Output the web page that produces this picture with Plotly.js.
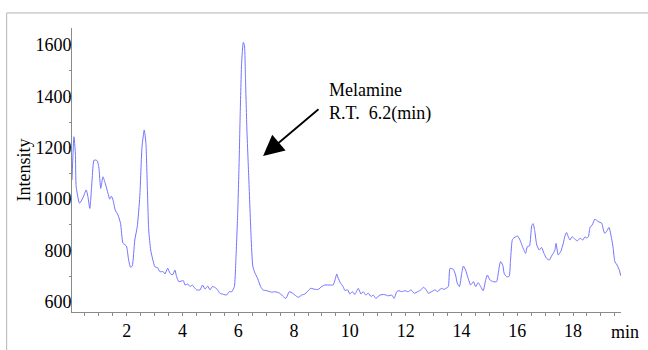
<!DOCTYPE html>
<html>
<head>
<meta charset="utf-8">
<script src="https://cdn.plot.ly/plotly-3.0.1.min.js"></script>
<style>html,body{margin:0;padding:0;background:#fff;}#chart{width:648px;height:350px;}</style>
</head>
<body>
<div id="chart"></div>
<script>
// Retention time (min)
const time = [0.04,0.11,0.16,0.19,0.31,0.43,0.55,0.61,0.68,0.76,0.83,0.94,1.00,1.07,1.15,1.23,1.33,1.39,1.45,1.51,1.59,1.69,1.78,1.87,1.99,2.07,2.14,2.20,2.29,2.38,2.47,2.55,2.63,2.69,2.74,2.79,2.86,2.94,3.01,3.11,3.19,3.31,3.37,3.47,3.55,3.64,3.73,3.79,3.87,4.03,4.09,4.19,4.27,4.35,4.42,4.51,4.63,4.72,4.81,4.90,4.99,5.07,5.16,5.26,5.34,5.46,5.58,5.67,5.77,5.86,5.91,5.98,6.03,6.07,6.12,6.18,6.22,6.26,6.31,6.38,6.46,6.52,6.60,6.70,6.80,6.88,7.02,7.20,7.32,7.49,7.61,7.71,7.83,7.95,8.03,8.15,8.27,8.39,8.47,8.60,8.75,8.87,8.99,9.11,9.29,9.40,9.47,9.53,9.58,9.67,9.76,9.82,9.92,10.00,10.09,10.18,10.30,10.40,10.48,10.57,10.66,10.76,10.84,10.93,11.08,11.23,11.38,11.50,11.59,11.68,11.76,11.86,11.97,12.09,12.19,12.31,12.43,12.55,12.63,12.73,12.81,12.93,13.05,13.15,13.27,13.38,13.44,13.53,13.59,13.71,13.79,13.85,13.93,14.01,14.07,14.15,14.24,14.33,14.43,14.51,14.60,14.69,14.78,14.87,14.93,15.02,15.14,15.26,15.32,15.40,15.48,15.53,15.62,15.71,15.76,15.83,15.92,16.01,16.10,16.19,16.30,16.36,16.44,16.52,16.57,16.63,16.70,16.79,16.87,16.96,17.05,17.15,17.23,17.29,17.35,17.39,17.47,17.56,17.65,17.71,17.77,17.83,17.89,17.97,18.07,18.16,18.25,18.35,18.43,18.49,18.55,18.61,18.69,18.78,18.90,19.03,19.09,19.14,19.20,19.29,19.38,19.44,19.50,19.58,19.66,19.71];
// Intensity
const intensity = [1075,1243,1180,1048,984,1005,1036,1010,964,1075,1152,1150,1126,1042,1087,1062,1023,1000,1012,997,958,938,906,828,818,763,735,740,841,893,1010,1204,1269,1217,1048,880,802,763,737,733,718,718,709,731,712,705,724,698,679,683,666,670,660,666,657,647,647,666,650,662,647,660,657,647,634,630,627,640,640,660,751,945,1140,1334,1529,1610,1600,1464,1269,1075,854,740,712,690,660,647,644,638,640,634,621,614,640,634,627,618,627,631,640,653,649,649,660,666,666,666,686,709,693,673,660,645,647,631,640,629,653,631,640,627,634,621,627,614,627,629,624,627,614,640,644,640,644,640,647,634,640,647,657,649,634,640,647,640,653,649,653,660,731,727,705,673,660,712,740,724,692,666,679,660,675,660,644,686,705,686,679,679,712,757,744,712,698,700,763,844,852,857,841,815,789,815,818,897,905,875,822,802,812,789,770,763,779,789,802,828,783,796,828,857,870,854,841,854,844,838,848,841,854,848,854,890,900,922,913,906,880,867,874,890,848,809,757,744,724,702];

const xTickVals = [2,4,6,8,10,12,14,16,18];
const yTickVals = [600,800,1000,1200,1400,1600];
const xUnit = 'min';
const yTitle = 'Intensity';
const peakLabel = 'Melamine<br>R.T.&nbsp; 6.2(min)';
const peakArrowHead = [6.89, 1168];
const peakArrowTail = [8.93, 1355];
const peakLabelPos = [9.18, 1378];

const FAM = 'Liberation Serif, Times New Roman, serif';
function mkFont() { return {family: FAM, size: 18, color: '#000'}; }

const trace = {
  x: time, y: intensity, type: 'scatter', mode: 'lines',
  line: {color: 'rgb(115,115,255)', width: 1, shape: 'spline', smoothing: 0.5},
  hoverinfo: 'skip'
};

const layout = {
  width: 648, height: 350,
  margin: {l: 72, r: 27, t: 28, b: 38, pad: 0},
  paper_bgcolor: '#fff', plot_bgcolor: '#fff',
  showlegend: false,
  font: mkFont(),
  xaxis: {
    range: [0.04, 19.72], showgrid: false, zeroline: false,
    showline: true, linecolor: '#8a8a8a', linewidth: 1,
    tickmode: 'array', tickvals: xTickVals, ticktext: xTickVals.map(String),
    ticks: 'outside', ticklen: 3, tickcolor: '#8a8a8a', tickwidth: 1,
    ticklabelstandoff: -1,
    minor: {dtick: 0.5, ticks: 'outside', ticklen: 3, tickcolor: '#8a8a8a', showgrid: false},
    tickfont: mkFont()
  },
  yaxis: {
    range: [561, 1666], showgrid: false, zeroline: false,
    showline: true, linecolor: '#8a8a8a', linewidth: 1,
    tickmode: 'array', tickvals: yTickVals, ticktext: yTickVals.map(String),
    ticks: 'outside', ticklen: 2, tickcolor: '#8a8a8a', tickwidth: 1,
    ticklabelstandoff: -6,
    minor: {dtick: 100, tick0: 0, ticks: 'outside', ticklen: 2, tickcolor: '#8a8a8a', showgrid: false},
    tickfont: mkFont(),
    title: {text: yTitle, font: mkFont(), standoff: 0}
  },
  shapes: [{
    type: 'rect', xref: 'paper', yref: 'paper',
    x0: -0.119, x1: 1.3, y0: -0.3, y1: 1.053,
    line: {color: '#b4b4b4', width: 1}, fillcolor: 'rgba(0,0,0,0)', layer: 'below'
  }],
  annotations: [
    {
      x: peakArrowHead[0], y: peakArrowHead[1], xref: 'x', yref: 'y',
      ax: peakArrowTail[0], ay: peakArrowTail[1], axref: 'x', ayref: 'y',
      text: '', showarrow: true, arrowhead: 2, arrowsize: 2.3, arrowwidth: 1.8, arrowcolor: '#000'
    },
    {
      x: peakLabelPos[0], y: peakLabelPos[1], xref: 'x', yref: 'y',
      text: peakLabel, showarrow: false, xanchor: 'left', yanchor: 'middle', align: 'left',
      font: mkFont()
    },
    {
      x: 1, y: 0, xref: 'paper', yref: 'paper', xanchor: 'left', yanchor: 'top',
      xshift: -12, yshift: -8, text: xUnit, showarrow: false, font: mkFont()
    }
  ]
};

Plotly.newPlot('chart', [trace], layout, {displayModeBar: false, staticPlot: true});
</script>
</body>
</html>
